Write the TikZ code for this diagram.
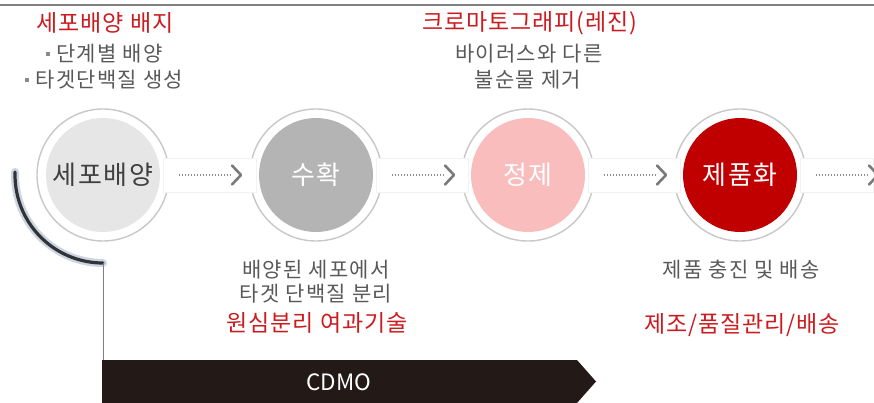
\documentclass[tikz,border=0pt]{standalone}
\usepackage{fontspec}
\setmainfont{Noto Sans CJK KR}
\newfontfamily\grayfont[LetterSpace=6]{Noto Sans CJK KR}
\newfontfamily\redfont[LetterSpace=4]{Noto Sans CJK KR}
\newfontfamily\corefont[LetterSpace=6]{Noto Sans CJK KR}
\usetikzlibrary{calc}
\definecolor{titlered}{HTML}{CC1B1F}
\definecolor{txtgray}{HTML}{595959}
\definecolor{ringgray}{HTML}{C8C8C8}
\definecolor{bandgray}{HTML}{F2F2F2}
\definecolor{arrowgray}{HTML}{7A7A7A}
\definecolor{c1fill}{HTML}{E6E6E6}
\definecolor{c2fill}{HTML}{B4B4B4}
\definecolor{c3fill}{HTML}{F9BDBD}
\definecolor{c4fill}{HTML}{C00000}
\definecolor{barblack}{HTML}{231916}
\definecolor{halo}{HTML}{CBD5E3}
\definecolor{topline}{HTML}{808080}
\tikzset{
  ring/.style={circle, draw=ringgray, line width=1.4pt, fill=white, minimum size=132pt, inner sep=0pt},
  core/.style={circle, minimum size=114pt, inner sep=0pt, font=\corefont\fontsize{26}{28}\selectfont},
  band/.style={draw=bandgray, line width=0.8pt, fill=white},
  redtitle/.style={text=titlered, font=\redfont\fontsize{23}{26}\selectfont, inner sep=0pt},
  graytext/.style={text=txtgray, font=\grayfont\fontsize{21}{25}\selectfont, align=center, inner sep=0pt},
  dotline/.style={draw=arrowgray!85, line width=1.3pt, dash pattern=on 1.3pt off 1.7pt},
  chevron/.style={draw=arrowgray, line width=2.6pt, line cap=round, line join=round},
}
\newcommand{\bul}{{\color{txtgray!70}\rule[0.28em]{0.2em}{0.2em}}\hspace{0.3em}}
\begin{document}
\begin{tikzpicture}[x=1pt,y=-1pt]
\useasboundingbox (0,0) rectangle (874,403);
% top rule
\coordinate (tl) at (0,5);
\coordinate (tr) at (874,5);
\draw[topline, line width=2pt] (tl) -- (tr);

% rings
\foreach \i/\cx in {1/103,2/316,3/528,4/740}{
  \node[ring] (r\i) at (\cx,175) {};
}
% bands between rings
\foreach \i/\j in {1/2,2/3,3/4}{
  \path[band] ($(r\i.center)+(60,-17)$) rectangle ($(r\j.center)+(-60,17)$);
}
\path[band] ($(r4.center)+(60,-17)$) rectangle (873,192);

% cores
\node[core, fill=c1fill, text=black!75] (c1) at (r1.center) {세포배양};
\node[core, fill=c2fill, text=white] (c2) at (r2.center) {수확};
\node[core, fill=c3fill, text=white] (c3) at (r3.center) {정제};
\node[core, fill=c4fill, text=white] (c4) at (r4.center) {제품화};

% arrows
\foreach \i in {1,2,3,4}{
  \coordinate (a\i s) at ($(r\i.center)+(76,0)$);
  \coordinate (a\i e) at ($(r\i.center)+(129,0)$);
  \coordinate (a\i t) at ($(r\i.center)+(138,0)$);
  \draw[dotline] (a\i s) -- (a\i e);
  \draw[chevron] ($(a\i t)+(-9,-9.5)$) -- (a\i t) -- ($(a\i t)+(-9,9.5)$);
}

% left arc
\coordinate (arcS) at ($(r1.center)+(182:88)$);
\coordinate (arcE) at ($(r1.center)+(0,88)$);
\draw[halo, line width=8pt, line cap=round] (arcS) arc[start angle=182, end angle=90, radius=88];
\draw[black!80, line width=3.2pt, line cap=round] (arcS) arc[start angle=182, end angle=90, radius=88];

% CDMO bar
\coordinate (barTL) at (102,360);
\coordinate (barTR) at (577,360);
\coordinate (barTip) at (596,381.5);
\coordinate (barBR) at (577,403);
\coordinate (barBL) at (102,403);
\fill[barblack] (barTL) -- (barTR) -- (barTip) -- (barBR) -- (barBL) -- cycle;
\node[text=white, font=\fontsize{22.5}{24}\selectfont] (cdmo) at (339,382) {CDMO};
\draw[gray, line width=1pt] (arcE) -- (arcE |- barTL);

% top texts
\node[redtitle] (t1) at (105,23) {세포배양 배지};
\node[graytext] (t1a) at (104,54) {\bul 단계별 배양};
\node[graytext] (t1b) at (104,80) {\bul 타겟단백질 생성};
\node[redtitle] (t3) at (530,23) {크로마토그래피(레진)};
\node[graytext] (t3a) at (529,54) {바이러스와 다른};
\node[graytext] (t3b) at (528,80) {불순물 제거};

% bottom texts
\node[graytext] (t2a) at (316,270) {배양된 세포에서};
\node[graytext] (t2b) at (316,294) {타겟 단백질 분리};
\node[redtitle] (t2) at (317,323) {원심분리 여과기술};
\node[graytext] (t4a) at (741,270) {제품 충진 및 배송};
\node[redtitle] (t4) at (742,325) {제조/품질관리/배송};
\end{tikzpicture}
\end{document}
